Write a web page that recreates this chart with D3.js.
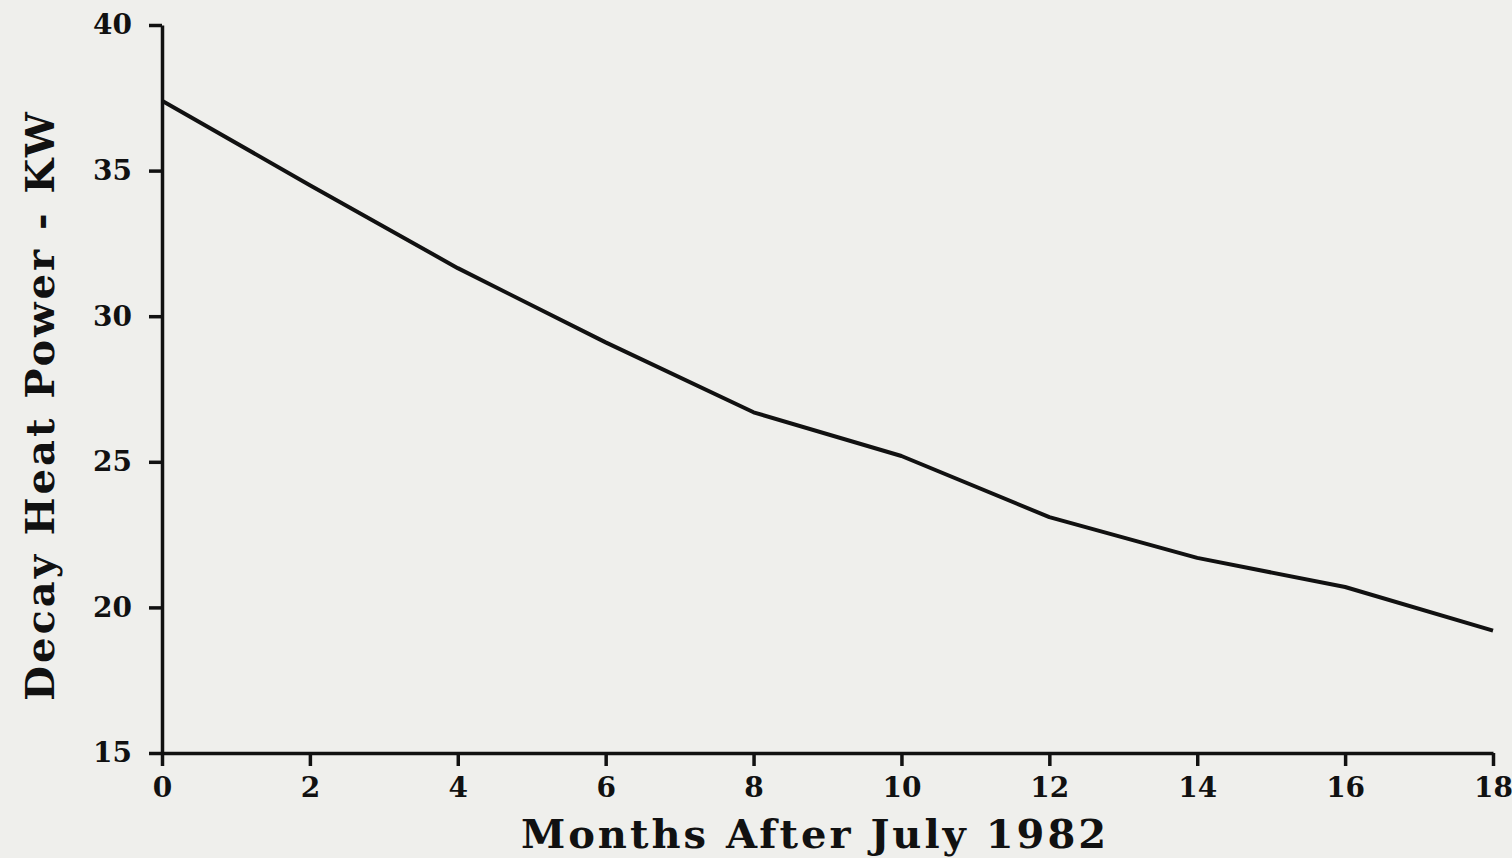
<!DOCTYPE html>
<html>
<head>
<meta charset="utf-8">
<script src="https://cdn.jsdelivr.net/npm/d3@7"></script>
<style>
  body { margin: 0; background: #efefec; }
  svg { display: block; }
  .axis path, .axis line { stroke: #111; stroke-width: 3.5; }
  .axis text { font-family: "DejaVu Serif", serif; font-weight: bold; font-size: 28px; fill: #111; }
</style>
</head>
<body>
<div id="chart"></div>
<script>
// months after July 1982 and decay heat power (kW)
let months = [0, 2, 4, 6, 8, 10, 12, 14, 16, 18];
let power = [37.4, 34.5, 31.65, 29.1, 26.7, 25.2, 23.1, 21.7, 20.7, 19.2];
let xTicks = [0, 2, 4, 6, 8, 10, 12, 14, 16, 18];
let yTicks = [15, 20, 25, 30, 35, 40];

let margin = { top: 25, right: 19, bottom: 105, left: 162 },
  width = 1512 - margin.left - margin.right,
  height = 858 - margin.top - margin.bottom;

let svg = d3.select("#chart")
  .append("svg")
  .attr("width", 1512)
  .attr("height", 858)
  .append("g")
  .attr("transform", "translate(" + margin.left + "," + margin.top + ")");

let x = d3.scaleLinear().domain([0, 18]).range([0, width]);
let y = d3.scaleLinear().domain([15, 40]).range([height, 0]);

svg.append("g")
  .attr("class", "axis")
  .attr("transform", "translate(0," + height + ")")
  .call(d3.axisBottom(x).tickValues(xTicks).tickSize(13).tickSizeOuter(0).tickPadding(11));

svg.append("g")
  .attr("class", "axis")
  .call(d3.axisLeft(y).tickValues(yTicks).tickSize(13).tickSizeOuter(0).tickPadding(17));

// x axis title
svg.append("text")
  .attr("x", 815 - margin.left)
  .attr("y", 848 - margin.top)
  .style("text-anchor", "middle")
  .style("font-family", "DejaVu Serif, serif")
  .style("font-weight", "bold")
  .style("font-size", "40px")
  .style("letter-spacing", "3px")
  .style("fill", "#111")
  .text("Months After July 1982");

// y axis title
svg.append("text")
  .attr("transform", "rotate(-90)")
  .attr("x", -(405 - margin.top))
  .attr("y", 54 - margin.left)
  .style("text-anchor", "middle")
  .style("font-family", "DejaVu Serif, serif")
  .style("font-weight", "bold")
  .style("font-size", "40px")
  .style("letter-spacing", "3px")
  .style("fill", "#111")
  .text("Decay Heat Power - KW");

let data = months.map(function (m, i) {
  return { month: m, kw: power[i] };
});

svg.append("path")
  .datum(data)
  .attr("fill", "none")
  .attr("stroke", "#111")
  .attr("stroke-width", 4)
  .attr("stroke-linejoin", "round")
  .attr("d", d3.line()
    .x(function (d) { return x(d.month); })
    .y(function (d) { return y(d.kw); }));
</script>
</body>
</html>
